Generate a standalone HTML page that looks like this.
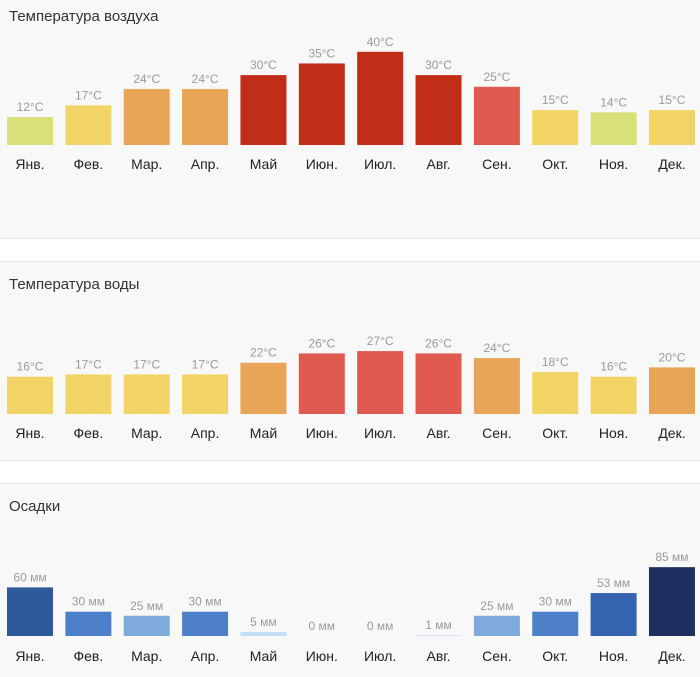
<!DOCTYPE html>
<html><head><meta charset="utf-8"><style>
body{margin:0;width:700px;height:677px;background:#fff;font-family:"Liberation Sans",sans-serif;overflow:hidden}
svg{display:block}
</style></head><body>
<svg id="c" width="700" height="677"></svg>
<script>
const months=["Янв.","Фев.","Мар.","Апр.","Май","Июн.","Июл.","Авг.","Сен.","Окт.","Ноя.","Дек."];
const airTemp=[12,17,24,24,30,35,40,30,25,15,14,15];
const waterTemp=[16,17,17,17,22,26,27,26,24,18,16,20];
const precip=[60,30,25,30,5,0,0,1,25,30,53,85];
const svg=document.getElementById('c');
const NS='http://www.w3.org/2000/svg';
function mk(t,a,p){const e=document.createElementNS(NS,t);for(const k in a)e.setAttribute(k,a[k]);(p||svg).appendChild(e);return e;}
function tempColor(v){if(v<=14)return'#d8e07a';if(v<=19)return'#f2d466';if(v<=24)return'#e8a555';if(v<=27)return'#e05a50';return'#c12e18';}
function rainColor(v){if(v<=2)return'#d6e8f8';if(v<=10)return'#c4def5';if(v<=27)return'#7eaadc';if(v<=35)return'#4d80c8';if(v<=55)return'#3463b0';if(v<=70)return'#2e5a9a';return'#1d3060';}
// backgrounds
const bands=[[0,238],[262,460],[484,677]];
bands.forEach((b,i)=>{const r=mk('rect',{x:0,y:b[0],width:700,height:b[1]-b[0],fill:'#f8f8f8'});
});
[238,261,460,483].forEach(y=>{const l=mk('rect',{x:0,y:y,width:700,height:1,fill:'#e8e8e8'});});
const colW=700/12, barW=46;
function chart(name,title,titleY,base,vals,scale,colorFn,unit,labelY){
  const g=mk('g',{});
  const t=mk('text',{x:9,y:titleY,'font-size':15,fill:'#333'},g);t.textContent=title;
  
  vals.forEach((v,i)=>{
    const x=7+i*colW+ (i>0?0.3*i/11:0);
    const h=v*scale;
    if(v>0){const r=mk('rect',{x:x,y:base-Math.max(h,1),width:barW,height:Math.max(h,1),fill:colorFn(v)},g);
      }
    const vt=mk('text',{x:x+barW/2,y:base-h-6,'font-size':12,fill:'#9a9a9a','text-anchor':'middle'},g);
    vt.textContent=v+unit;
    
    const mt=mk('text',{x:x+barW/2,y:labelY,'font-size':14,fill:'#222','text-anchor':'middle'},g);
    mt.textContent=months[i];
    
  });
}
chart('air-temp-chart','Температура воздуха',21,145,airTemp,2.33,tempColor,'°C',169);
chart('water-temp-chart','Температура воды',289,414,waterTemp,2.33,tempColor,'°C',438);
chart('precip-chart','Осадки',511,636,precip,0.81,rainColor,' мм',661);
</script>
</body></html>
